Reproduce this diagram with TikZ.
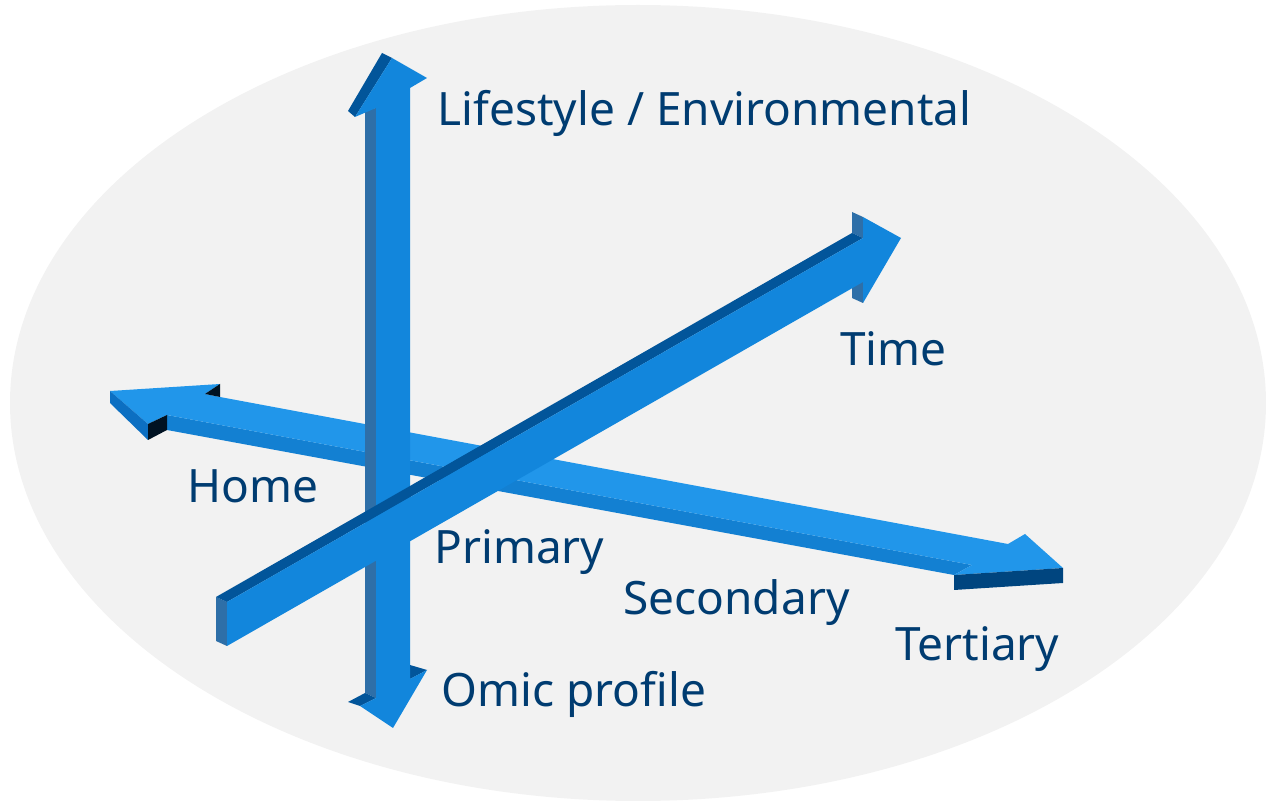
\documentclass[tikz,border=0pt]{standalone}
\usepackage{fontspec}
\setmainfont{Noto Sans}
\usepackage{xcolor}
\usetikzlibrary{positioning}

\definecolor{backdrop}{HTML}{F2F2F2}
\definecolor{arrowfront}{HTML}{1286DC}
\definecolor{arrowtop}{HTML}{2196EA}
\definecolor{arrowside}{HTML}{2E6FA8}
\definecolor{arrowdark}{HTML}{02559A}
\definecolor{shaftfront}{HTML}{1380D2}
\definecolor{headfront}{HTML}{00457F}
\definecolor{headleft}{HTML}{0C6FC2}
\definecolor{arrowshadow}{HTML}{001222}
\definecolor{labelblue}{HTML}{003C71}

\begin{document}
\begin{tikzpicture}
		[x=0.5pt,y=-0.5pt,
		front/.style={fill=arrowfront},
		topface/.style={fill=arrowtop},
		sideface/.style={fill=arrowside},
		darkface/.style={fill=arrowdark},
		axislabel/.style={anchor=base west,inner sep=0pt,text=labelblue,font=\fontsize{23}{27}\selectfont}]
		\useasboundingbox (0,0) rectangle (1266,802);
		\fill [backdrop] (638,403) ellipse [x radius=314pt, y radius=199pt];

		% Home -- Tertiary
		\fill [shaftfront] (167,415) -- (972,565) -- (954,575) -- (167,430) -- cycle;
		\fill [topface] (110,391) -- (220,384) -- (205,394) -- (220,397) -- (1008,544) -- (1025,534)
			-- (1063,568) -- (954,575) -- (972,565) -- (167,415) -- (148,424) -- cycle;
		\fill [headfront] (954,575) -- (1063,568) -- (1063,583) -- (954,590) -- cycle;
		\fill [headleft] (110,391) -- (148,424) -- (148,440) -- (110,403) -- cycle;
		\fill [arrowshadow] (148,424) -- (167,415) -- (167,430) -- (148,440) -- cycle;
		\fill [arrowshadow] (205,394) -- (220,384) -- (220,397) -- cycle;

		% Omic profile -- Lifestyle
		\fill [sideface] (365,110) -- (376,108) -- (376,698) -- (365,693) -- cycle;
		\fill [darkface] (348,111) -- (382,53) -- (392,58) -- (355,117) -- cycle;
		\fill [darkface] (348,702) -- (365,693) -- (376,698) -- (360,706) -- cycle;
		\fill [darkface] (410,665) -- (427,670) -- (410,679) -- cycle;
		\fill [front] (392,58) -- (427,78) -- (410,88) -- (410,679) -- (427,670) -- (393,728)
			-- (360,706) -- (376,698) -- (376,108) -- (355,117) -- cycle;

		% Time
		\fill [sideface] (216,597) -- (227,602) -- (227,646) -- (216,641) -- cycle;
		\fill [sideface] (852,212) -- (863,217) -- (863,238) -- (852,233) -- cycle;
		\fill [sideface] (852,277) -- (863,282) -- (863,303) -- (852,298) -- cycle;
		\fill [darkface] (216,597) -- (227,602) -- (863,238) -- (852,233) -- cycle;
		\fill [front] (227,602) -- (863,238) -- (863,217) -- (901,238) -- (863,303) -- (863,282)
			-- (227,646) -- cycle;

		\node [axislabel] (lifestyle) at (437,126) {Lifestyle / Environmental};
		\node [axislabel] (time) at (840,366) {Time};
		\node [axislabel] (home) at (187,503) {Home};
		\node [axislabel] (primary) at (434,564) {Primary};
		\node [axislabel] (secondary) at (623,615) {Secondary};
		\node [axislabel] (tertiary) at (895,661) {Tertiary};
		\node [axislabel] (omic) at (441,707) {Omic profile};

	\end{tikzpicture}
\end{document}
